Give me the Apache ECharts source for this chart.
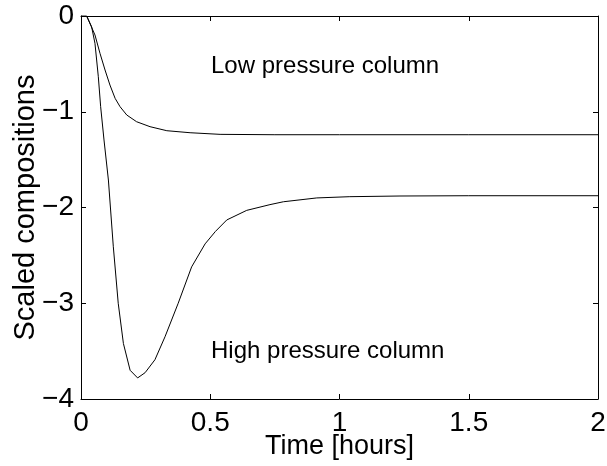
<!DOCTYPE html>
<html>
<head>
<meta charset="utf-8">
<script src="https://cdn.jsdelivr.net/npm/echarts@6/dist/echarts.min.js"></script>
<style>
html,body{margin:0;padding:0;background:#fff;}
#c{width:607px;height:466px;}
</style>
</head>
<body>
<div id="c"></div>
<script>
const lowT = [0, 0.022, 0.054, 0.0735, 0.093, 0.112, 0.132, 0.151, 0.177, 0.215, 0.267, 0.332, 0.422, 0.538, 0.75, 1.0, 1.5, 2.0];
const lowY = [0, 0, -0.198, -0.390, -0.564, -0.721, -0.860, -0.947, -1.034, -1.104, -1.156, -1.198, -1.219, -1.236, -1.24, -1.24, -1.24, -1.24];
const highT = [0, 0.022, 0.041, 0.054, 0.067, 0.076, 0.089, 0.106, 0.125, 0.144, 0.164, 0.190, 0.219, 0.248, 0.286, 0.325, 0.376, 0.428, 0.480, 0.520, 0.564, 0.641, 0.731, 0.783, 0.912, 1.04, 1.234, 1.5, 2.0];
const highY = [0, 0, -0.112, -0.285, -0.634, -0.947, -1.295, -1.713, -2.41, -3.00, -3.42, -3.70, -3.78, -3.725, -3.59, -3.35, -3.00, -2.62, -2.38, -2.25, -2.13, -2.03, -1.97, -1.94, -1.90, -1.887, -1.88, -1.877, -1.877];
const xTicks = [0, 0.5, 1, 1.5, 2];
const yTicks = [0, -1, -2, -3, -4];
const annotations = [
  {text: 'Low pressure column', t: 0.503, y: -0.53},
  {text: 'High pressure column', t: 0.503, y: -3.50}
];

const FONT = 'Liberation Sans, Arial, Helvetica, sans-serif';
const chart = echarts.init(document.getElementById('c'), null, {renderer: 'canvas'});
const zip = (a, b) => a.map((v, i) => [v, b[i]]);
const axisCommon = {
  axisLine: {show: true, onZero: false, lineStyle: {color: '#000', width: 1}},
  axisTick: {show: true, inside: true, length: 5, lineStyle: {color: '#000', width: 1}},
  splitLine: {show: false}
};
chart.setOption({
  animation: false,
  backgroundColor: '#fff',
  grid: {left: 81, top: 16, right: 9, bottom: 67, containLabel: false, outerBoundsMode: 'none'},
  xAxis: [
    Object.assign({}, axisCommon, {
      type: 'value', min: 0, max: 2, interval: 0.5, position: 'bottom',
      axisLabel: {color: '#000', fontSize: 28, fontFamily: FONT, margin: 10,
        formatter: v => String(xTicks.find(t => Math.abs(t - v) < 1e-9) ?? v)},
      name: 'Time [hours]', nameLocation: 'middle', nameGap: 34, nameMoveOverlap: false,
      nameTextStyle: {color: '#000', fontSize: 27, fontFamily: FONT}
    }),
    Object.assign({}, axisCommon, {
      type: 'value', min: 0, max: 2, interval: 0.5, position: 'top',
      axisLabel: {show: false}
    })
  ],
  yAxis: [
    Object.assign({}, axisCommon, {
      type: 'value', min: -4, max: 0, interval: 1, position: 'left',
      axisLabel: {color: '#000', fontSize: 28, fontFamily: FONT, margin: 7,
        formatter: v => String(yTicks.find(t => Math.abs(t - v) < 1e-9) ?? v).replace('-', '\u2212')},
      name: 'Scaled compositions', nameLocation: 'middle', nameGap: 41, nameMoveOverlap: false,
      nameTextStyle: {color: '#000', fontSize: 29, fontFamily: FONT}
    }),
    Object.assign({}, axisCommon, {
      type: 'value', min: -4, max: 0, interval: 1, position: 'right',
      axisLabel: {show: false}
    })
  ],
  series: [
    {type: 'line', data: zip(lowT, lowY), showSymbol: false, smooth: false,
      lineStyle: {color: '#000', width: 1}, xAxisIndex: 0, yAxisIndex: 0},
    {type: 'line', data: zip(highT, highY), showSymbol: false, smooth: false,
      lineStyle: {color: '#000', width: 1}, xAxisIndex: 0, yAxisIndex: 0}
  ]
});
const g = annotations.map(a => {
  const p = chart.convertToPixel({xAxisIndex: 0, yAxisIndex: 0}, [a.t, a.y]);
  return {type: 'text', left: p[0], top: p[1] - 12,
    style: {text: a.text, fill: '#000', fontSize: 24, fontFamily: FONT, textVerticalAlign: 'top'}};
});
chart.setOption({graphic: g});
</script>
</body>
</html>
